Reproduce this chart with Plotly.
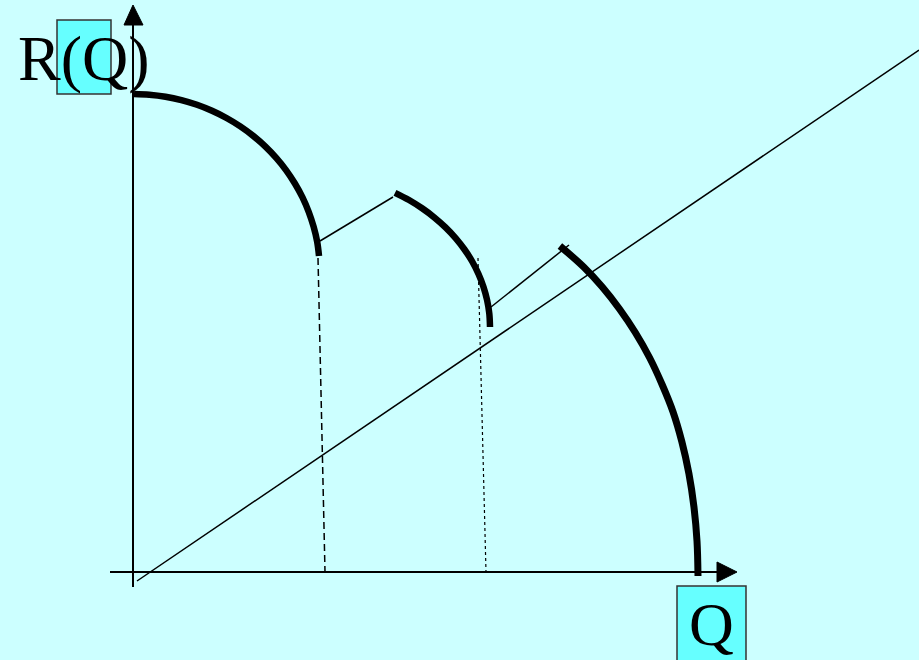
import plotly.graph_objects as go

# Coordinates: Q to the right, R upward, origin at the axes crossing
W, H = 919, 660
OX, OY = 133, 572  # pixel position of the origin


def q(px):
    return [p - OX for p in px]


def r(py):
    return [OY - p for p in py]


# Thick revenue arcs (pixel coords)
arc1_x = [134, 149.3, 165.5, 181.4, 197.0, 212.0, 226.5, 240.3, 253.2, 265.2,
          276.2, 286.2, 294.9, 302.5, 308.7, 313.6, 317.2, 319.0]
arc1_y = [94, 94.7, 96.7, 100.1, 104.8, 110.8, 118.0, 126.4, 135.9, 146.4,
          157.9, 170.3, 183.5, 197.4, 211.8, 226.7, 241.9, 256.0]
arc2_x = [395.0, 409.0, 422.1, 434.3, 445.5, 455.6, 464.5, 472.2, 478.5,
          483.5, 487.1, 489.3, 490.0]
arc2_y = [192.8, 200.0, 208.3, 217.4, 227.4, 238.1, 249.5, 261.5, 274.0,
          286.9, 300.1, 313.5, 327.0]
arc3_x = [559.9, 583.7, 602.3, 619.5, 635.3, 649.5, 662.1, 672.9, 681.8,
          688.9, 693.9, 697.0, 698.0]
arc3_y = [246.0, 267.0, 287.0, 309.0, 332.5, 357.5, 384.5, 411.5, 441.5,
          473.5, 506.5, 541.0, 576.0]

# Thin connectors between arcs
link1_x = [320, 393]
link1_y = [241, 197]
link2_x = [491, 569]
link2_y = [307, 245]

# Diagonal straight line
diag_x = [137, 919]
diag_y = [581, 50]

# Projection lines to the Q axis
dash_x = [318, 325]
dash_y = [258, 572]
dot_x = [478, 486]
dot_y = [258, 572]

# Axes
vaxis_x = [133, 133]
vaxis_y = [587, 22]
haxis_x = [110, 720]
haxis_y = [572, 572]

fig = go.Figure()


def add_line(xs, ys, width, dash="solid"):
    fig.add_trace(go.Scatter(
        x=q(xs), y=r(ys), mode="lines",
        line=dict(color="black", width=width, dash=dash, shape="spline",
                  smoothing=1.0),
        hoverinfo="skip", showlegend=False))


add_line(vaxis_x, vaxis_y, 2)
add_line(haxis_x, haxis_y, 2)
add_line(diag_x, diag_y, 1.5)
add_line(link1_x, link1_y, 1.5)
add_line(link2_x, link2_y, 1.5)
add_line(dash_x, dash_y, 1.5, dash="7px,4px")
add_line(dot_x, dot_y, 1.2, dash="dot")
add_line(arc1_x, arc1_y, 6.5)
add_line(arc2_x, arc2_y, 6.5)
add_line(arc3_x, arc3_y, 7)

# Arrow heads
fig.add_trace(go.Scatter(
    x=q([133, 124, 143, 133]), y=r([5, 25, 25, 5]), mode="lines",
    fill="toself", fillcolor="black", line=dict(color="black", width=1),
    hoverinfo="skip", showlegend=False))
fig.add_trace(go.Scatter(
    x=q([737, 717, 717, 737]), y=r([572, 562, 582, 572]), mode="lines",
    fill="toself", fillcolor="black", line=dict(color="black", width=1),
    hoverinfo="skip", showlegend=False))

# Label boxes
fig.add_shape(type="rect", x0=57 - OX, x1=111 - OX, y0=OY - 20, y1=OY - 94,
              fillcolor="#66FFFF", line=dict(color="#333333", width=1.5),
              layer="below")
fig.add_shape(type="rect", x0=677 - OX, x1=746 - OX, y0=OY - 586, y1=OY - 680,
              fillcolor="#66FFFF", line=dict(color="#333333", width=1.5),
              layer="below")

serif = "Liberation Serif, Times New Roman, serif"
fig.add_annotation(text="R(Q)", x=16 - OX, y=OY - 58, xanchor="left",
                   yanchor="middle", showarrow=False,
                   font=dict(family=serif, size=64, color="black"))
fig.add_annotation(text="Q", x=711 - OX, y=OY - 624, xanchor="center",
                   yanchor="middle", showarrow=False,
                   font=dict(family=serif, size=62, color="black"))

fig.update_layout(
    width=W, height=H,
    margin=dict(l=0, r=0, t=0, b=0),
    paper_bgcolor="#CCFFFF", plot_bgcolor="#CCFFFF",
    xaxis=dict(range=[-OX, W - OX], visible=False, fixedrange=True),
    yaxis=dict(range=[OY - H, OY], visible=False, fixedrange=True),
)

fig.write_html(
    "out.html",
    config={"displayModeBar": False},
    post_script="document.body.style.margin='0';"
                "document.body.style.background='#CCFFFF';"
                "document.body.style.overflow='hidden';",
)
